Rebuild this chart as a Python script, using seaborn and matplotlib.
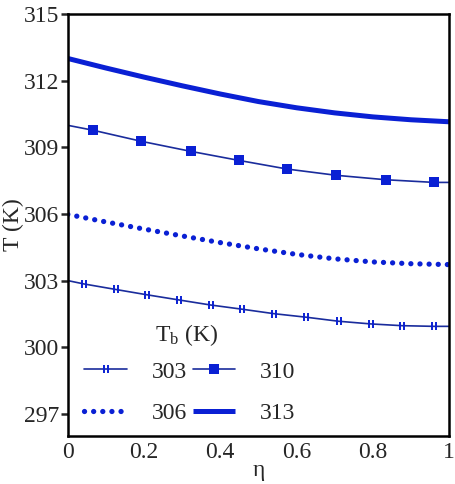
import numpy as np
import pandas as pd
import matplotlib
matplotlib.use("Agg")
import matplotlib.pyplot as plt
from matplotlib.path import Path
import seaborn as sns

# values
eta_303 = [0.0, 0.042, 0.126, 0.208, 0.291, 0.375, 0.458, 0.541, 0.626, 0.710, 0.794, 0.877, 0.961, 1.0]
T_303 = [303.0, 302.85, 302.6, 302.36, 302.13, 301.9, 301.71, 301.51, 301.35, 301.17, 301.05, 300.97, 300.94, 300.94]

eta_306 = [0.0, 0.1, 0.2, 0.3, 0.4, 0.5, 0.6, 0.7, 0.8, 0.9, 1.0]
T_306 = [305.98, 305.64, 305.32, 305.01, 304.71, 304.43, 304.18, 303.98, 303.84, 303.76, 303.72]

eta_310 = [0.0, 0.066, 0.193, 0.322, 0.449, 0.576, 0.704, 0.834, 0.961, 1.0]
T_310 = [309.99, 309.77, 309.27, 308.82, 308.41, 308.02, 307.74, 307.54, 307.42, 307.42]

eta_313 = [0.0, 0.1, 0.2, 0.3, 0.4, 0.5, 0.6, 0.7, 0.8, 0.9, 1.0]
T_313 = [313.0, 312.57, 312.16, 311.77, 311.40, 311.06, 310.78, 310.55, 310.37, 310.24, 310.15]

yticks = [297, 300, 303, 306, 309, 312, 315]
xticks = [0, 0.2, 0.4, 0.6, 0.8, 1]
xticklabels = ["0", "0.2", "0.4", "0.6", "0.8", "1"]

sns.set_theme(style="ticks")
plt.rcParams["font.family"] = ["Liberation Serif", "DejaVu Serif"]
plt.rcParams["mathtext.fontset"] = "custom"
plt.rcParams["mathtext.rm"] = "Liberation Serif"
plt.rcParams["mathtext.it"] = "Liberation Serif:italic"

blue = "#0A20D4"
navy = "#1A2C9C"
bars = Path([(-0.5, -1), (-0.5, 1), (0.5, -1), (0.5, 1)],
            [Path.MOVETO, Path.LINETO, Path.MOVETO, Path.LINETO])

fig = plt.figure(figsize=(4.55, 4.84), dpi=100)
ax = fig.add_axes([0.149, 0.099, 0.838, 0.872])

sns.lineplot(x=eta_303, y=T_303, ax=ax, color=navy, lw=1.2, marker=bars,
             markersize=6, markeredgewidth=1.4, markeredgecolor=blue,
             markevery=list(range(1, 13)), label="303")
sns.lineplot(x=eta_306, y=T_306, ax=ax, color=blue, lw=3.8,
             linestyle=(0, (0.01, 1.72)), dash_capstyle="round", label="306")
sns.lineplot(x=eta_310, y=T_310, ax=ax, color=navy, lw=1.2, marker="s",
             markersize=7, markeredgewidth=0, markerfacecolor=blue,
             markevery=list(range(1, 9)), label="310")
sns.lineplot(x=eta_313, y=T_313, ax=ax, color=blue, lw=3.6,
             solid_capstyle="butt", label="313")

ax.set_xlim(0, 1)
ax.set_ylim(296, 315)
ax.set_yticks(yticks)
ax.set_xticks(xticks)
ax.set_xticklabels(xticklabels)
ax.tick_params(axis="y", direction="out", length=5, width=1.8, labelsize=17, pad=1)
ax.tick_params(axis="x", length=0, labelsize=17, pad=4)
for s in ax.spines.values():
    s.set_linewidth(1.8)
    s.set_color("black")

ax.set_xlabel("η", fontsize=17, labelpad=-2)
ax.set_ylabel("T (K)", fontsize=17, labelpad=0)

leg = ax.legend(ncol=2, fontsize=17, frameon=False, loc="lower left",
                bbox_to_anchor=(0.0, -0.01), handlelength=1.8,
                handletextpad=1.05, columnspacing=0.25,
                labelspacing=0.83, borderaxespad=0.3)
ax.text(0.312, 0.239, r"T$_\mathrm{b}$ (K)", transform=ax.transAxes,
        fontsize=17, ha="center", va="center")

fig.savefig("out.png", dpi=100)
